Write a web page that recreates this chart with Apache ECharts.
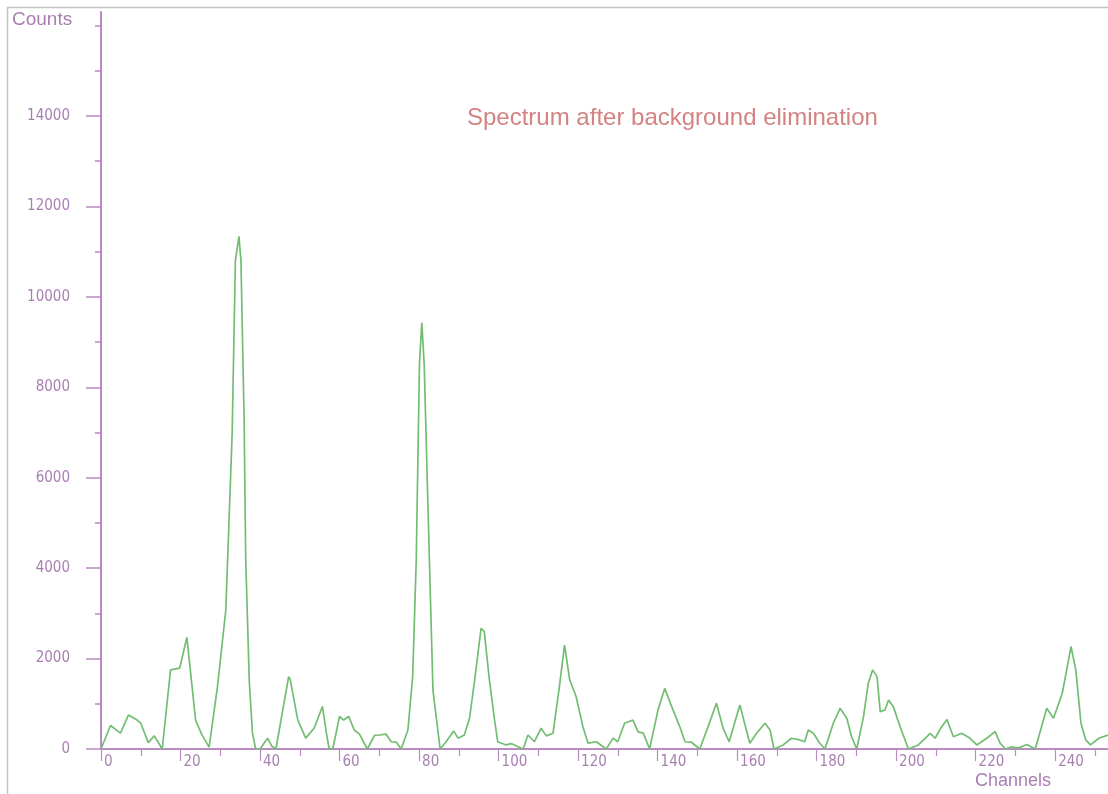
<!DOCTYPE html>
<html>
<head>
<meta charset="utf-8">
<script src="https://cdn.jsdelivr.net/npm/echarts@6/dist/echarts.min.js"></script>
<style>
  html, body { margin: 0; padding: 0; background: #ffffff; }
  #chart { width: 1108px; height: 794px; }
</style>
</head>
<body>
<div id="chart"></div>
<script>
// ---- data ----
const channels = [
  0, 2.4, 4.9, 6.9, 9.1, 10, 11.9, 13.4, 15.4, 17.5, 19.8, 21.6, 23.8, 25.3, 27.2, 29.3, 31.4, 33, 33.8, 34.7,
  35.2, 36, 36.4, 37.3, 38.1, 38.9, 40, 41.9, 43, 44, 47.2, 47.6, 49.5, 51.5, 53.6, 55.7, 56.7, 57.4, 58.3, 60,
  61, 62.3, 63.7, 65, 67, 68.8, 70, 71.7, 73, 74.3, 75.5, 77.2, 78.4, 79.3, 80.1, 80.7, 81.3, 82.6, 83.5, 85.3,
  86.8, 88.7, 89.8, 91.4, 92.7, 94, 95.6, 96.4, 97.7, 99, 99.8, 101.9, 103.2, 104.9, 106.2, 107.4, 109, 110.7, 112, 113.7,
  115.3, 116.6, 117.9, 119.5, 121.2, 122.5, 124.6, 127.1, 128.8, 130, 131.7, 133.8, 135.1, 136.4, 138, 140.1, 141.8, 143.9, 145.6, 146.9,
  148.5, 150.6, 152.7, 154.8, 156.5, 158, 160.7, 163.2, 164.9, 167, 168.3, 169.3, 171.6, 173.7, 175.8, 177, 177.9, 179.2, 180.8, 182.1,
  184.2, 185.9, 187.6, 188.8, 190.1, 191.8, 193, 194.1, 195.2, 196, 197.2, 198.1, 199.3, 201, 203.1, 205.6, 208.6, 209.8, 211.2, 212.8,
  214.4, 216.5, 218.6, 220.3, 222.8, 224.9, 226.2, 227.5, 229.1, 230.7, 232.9, 235, 237.9, 239.6, 241.8, 244, 245.2, 246.5, 247.7, 248.9,
  251, 253.3
];
const counts = [
  0, 520, 350, 750, 640, 570, 140, 290, 0, 1750, 1790, 2470, 640, 330, 40, 1380, 3080, 7000, 10800, 11340,
  10800, 7300, 4200, 1500, 350, 0, 0, 240, 60, 0, 1600, 1540, 640, 240, 460, 940, 350, 0, 0, 720,
  640, 720, 420, 330, 0, 300, 310, 330, 160, 150, 0, 420, 1600, 4190, 8500, 9430, 8500, 4190, 1300, 0,
  160, 400, 240, 310, 680, 1530, 2670, 2600, 1530, 640, 160, 90, 120, 50, 0, 310, 160, 460, 290, 350,
  1380, 2300, 1530, 1160, 500, 130, 160, 0, 240, 160, 570, 640, 380, 350, 0, 860, 1340, 860, 490, 160,
  150, 0, 490, 1010, 460, 160, 975, 126, 347, 570, 420, 0, 90, 237, 200, 160, 420, 347, 126, 0,
  570, 900, 680, 270, 0, 716, 1455, 1750, 1600, 826, 864, 1085, 937, 494, 0, 90, 347, 237, 458, 650,
  270, 347, 237, 90, 237, 383, 126, 0, 50, 20, 100, 0, 900, 680, 1233, 2266, 1750, 570, 200, 90,
  237, 310
];
const xMajorTicks = [0, 20, 40, 60, 80, 100, 120, 140, 160, 180, 200, 220, 240];
const xMinorTicks = [10, 30, 50, 70, 90, 110, 130, 150, 170, 190, 210, 230, 250];
const yLabelTicks = [0, 2000, 4000, 6000, 8000, 10000, 12000, 14000];
const yMinorTicks = [1000, 3000, 5000, 7000, 9000, 11000, 13000, 15000, 16000];
const titleText = 'Spectrum after background elimination';
const xTitle = 'Channels';
const yTitle = 'Counts';

// ---- chart ----
const axisColor = '#b98bc0';
const labelColor = '#a97fb2';
const lineColor = '#72bd72';
const numFont = '"DejaVu Sans Condensed", "Liberation Sans", sans-serif';
const textFont = 'Liberation Sans';
const plain = v => String(v);

const seriesData = channels.map((c, i) => [c, counts[i]]);

const chart = echarts.init(document.getElementById('chart'), null, { renderer: 'canvas' });
chart.setOption({
  animation: false,
  backgroundColor: '#ffffff',
  grid: { left: 101, top: 12, right: 0, height: 737 },
  xAxis: [
    {
      type: 'value', min: 0, max: 253.3, position: 'bottom',
      splitLine: { show: false },
      axisLine: { show: true, lineStyle: { color: axisColor, width: 2 } },
      axisTick: { show: true, inside: false, length: 12, customValues: xMajorTicks,
        lineStyle: { color: axisColor, width: 1.2 } },
      axisLabel: { show: true, customValues: xMajorTicks, margin: 6, align: 'left', formatter: plain,
        padding: [0, 0, 0, 3], color: labelColor, fontFamily: numFont, fontSize: 15 }
    },
    {
      type: 'value', min: 0, max: 253.3, position: 'bottom',
      splitLine: { show: false },
      axisLine: { show: false },
      axisTick: { show: true, inside: false, length: 7, customValues: xMinorTicks,
        lineStyle: { color: axisColor, width: 1.2 } },
      axisLabel: { show: false }
    }
  ],
  yAxis: [
    {
      type: 'value', min: 0, max: 16300, position: 'left',
      splitLine: { show: false },
      axisLine: { show: true, lineStyle: { color: axisColor, width: 2 } },
      axisTick: { show: true, inside: false, length: 15, customValues: yLabelTicks,
        lineStyle: { color: axisColor, width: 1.5 } },
      axisLabel: { show: true, customValues: yLabelTicks, margin: 31, formatter: plain,
        padding: [0, 0, 16, 0], color: labelColor, fontFamily: numFont, fontSize: 15 }
    },
    {
      type: 'value', min: 0, max: 16300, position: 'left',
      splitLine: { show: false },
      axisLine: { show: false },
      axisTick: { show: true, inside: false, length: 6, customValues: yMinorTicks,
        lineStyle: { color: axisColor, width: 1.5 } },
      axisLabel: { show: false }
    }
  ],
  series: [
    {
      type: 'line',
      xAxisIndex: 0, yAxisIndex: 0,
      data: seriesData,
      showSymbol: false,
      smooth: false,
      lineStyle: { color: lineColor, width: 1.7 },
      z: 3
    }
  ],
  graphic: [
    { type: 'rect', shape: { x: 7.5, y: 7.5, width: 1300, height: 1000 },
      style: { fill: 'none', stroke: '#c4c4c4', lineWidth: 1.5 }, silent: true, z: 0 },
    { type: 'text', left: 12, top: 10,
      style: { text: yTitle, fill: labelColor, font: '19px "' + textFont + '"' } },
    { type: 'text', x: 975, y: 781,
      style: { text: xTitle, fill: labelColor, font: '18px "' + textFont + '"', textVerticalAlign: 'middle' } },
    { type: 'text', x: 467, y: 118,
      style: { text: titleText, fill: '#d48282', font: '24px "' + textFont + '"', textVerticalAlign: 'middle' } }
  ]
});
</script>
</body>
</html>
